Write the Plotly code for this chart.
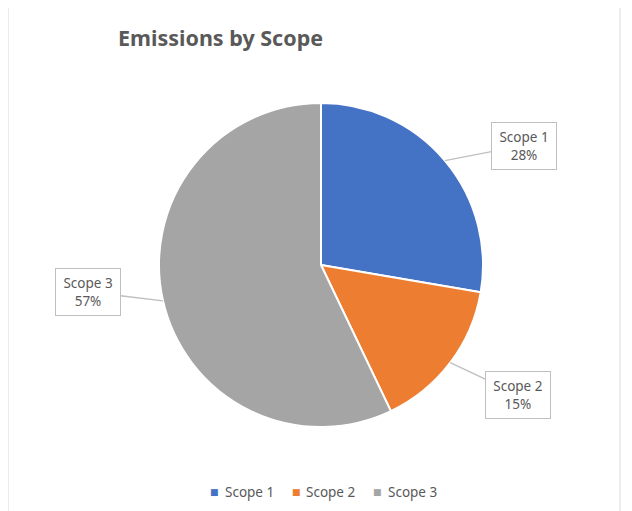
import math
import plotly.graph_objects as go

# ---- data ----
categories = ["Scope 1", "Scope 2", "Scope 3"]
values = [27.7, 15.2, 57.1]
title_text = "Emissions by Scope"

# ---- styles / layout (screen pixel positions; page has an 8px body margin) ----
colors = ["#4472C4", "#ED7D31", "#A5A5A5"]
OFF = 8
W, H = 632 - OFF, 511 - OFF
cx, cy, R = 321 - OFF, 265 - OFF, 162          # pie centre / radius (figure px)
label_offsets = [(79, -15), (68, 32), (-75, -9)]   # box centre relative to leader tip
text_color = "#595959"
font_family = "Noto Sans"


def px(x):
    return (x - OFF) / W


def py(y):
    return (H - (y - OFF)) / H


fig = go.Figure()
fig.add_trace(go.Pie(
    labels=categories,
    values=values,
    sort=False,
    direction="clockwise",
    rotation=0,
    textinfo="none",
    marker=dict(colors=colors, line=dict(color="white", width=2)),
    domain=dict(x=[(cx - R) / W, (cx + R) / W],
                y=[(H - cy - R) / H, (H - cy + R) / H]),
    showlegend=False,
))

total = sum(values)
annotations = []
cum = 0.0
for name, v, (ax, ay) in zip(categories, values, label_offsets):
    mid = (cum + v / 2) / total * 2 * math.pi
    cum += v
    tx = cx + R * math.sin(mid)
    ty = cy - R * math.cos(mid)
    annotations.append(dict(
        x=tx / W, y=(H - ty) / H, xref="paper", yref="paper",
        text=f"{name}<br>{round(v / total * 100)}%",
        showarrow=True, arrowhead=0, arrowwidth=1.3, arrowcolor="#BFBFBF",
        ax=ax, ay=ay, standoff=0,
        bordercolor="#BFBFBF", borderwidth=1, borderpad=0, bgcolor="white",
        width=64, height=46,
        font=dict(family=font_family, size=13.5, color=text_color),
        align="center",
    ))

annotations.append(dict(
    x=px(116), y=py(38), xref="paper", yref="paper",
    xanchor="left", yanchor="middle", showarrow=False,
    text="<b>" + title_text + "</b>",
    font=dict(family=font_family, size=21.5, color=text_color),
))

# custom legend (square marker + label)
legend_x0, legend_pitch, legend_y = 214.5, 81.5, 492
for i, (name, col) in enumerate(zip(categories, colors)):
    sx = legend_x0 + i * legend_pitch
    annotations.append(dict(
        x=px(sx), y=py(legend_y), xref="paper", yref="paper",
        xanchor="center", yanchor="middle", showarrow=False,
        text="■", font=dict(family="DejaVu Sans", size=9, color=col),
    ))
    annotations.append(dict(
        x=px(sx + 8), y=py(legend_y), xref="paper", yref="paper",
        xanchor="left", yanchor="middle", showarrow=False,
        text=name, font=dict(family=font_family, size=13.5, color=text_color),
    ))

fig.update_layout(
    width=W, height=H,
    margin=dict(l=0, r=0, t=0, b=0),
    paper_bgcolor="white",
    annotations=annotations,
    shapes=[dict(type="rect", xref="paper", yref="paper",
                 x0=px(8), x1=px(620), y0=-0.1, y1=py(7),
                 line=dict(color="#D9D9D9", width=1))],
)

fig.write_html("out.html")
